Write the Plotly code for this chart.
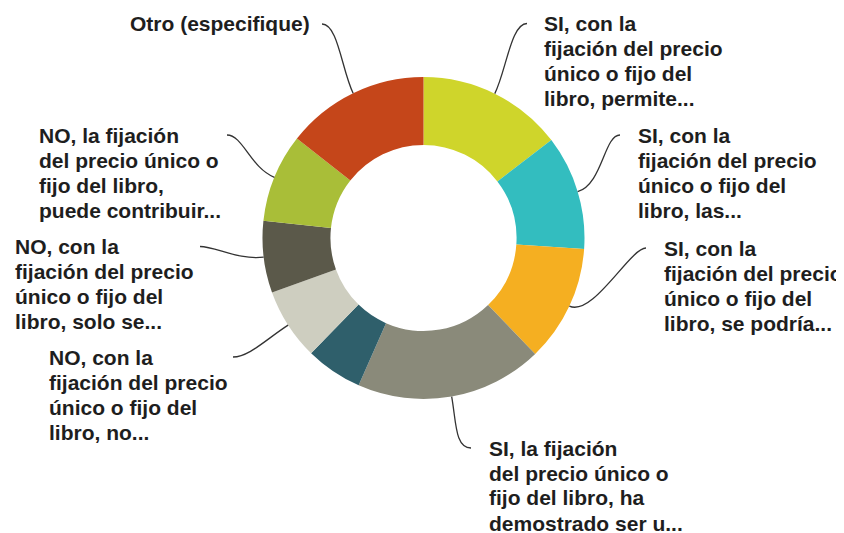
import math
import plotly.graph_objects as go

# ---------------- data ----------------
categories = [
    "SI, con la fijación del precio único o fijo del libro, permite...",
    "SI, con la fijación del precio único o fijo del libro, las...",
    "SI, con la fijación del precio único o fijo del libro, se podría...",
    "SI, la fijación del precio único o fijo del libro, ha demostrado ser u...",
    "(sin etiqueta)",
    "NO, con la fijación del precio único o fijo del libro, no...",
    "NO, con la fijación del precio único o fijo del libro, solo se...",
    "NO, la fijación del precio único o fijo del libro, puede contribuir...",
    "Otro (especifique)",
]
values = [14.6, 11.5, 11.7, 18.8, 5.7, 7.2, 7.2, 8.9, 14.4]
label_lines = [
    ["SI, con la", "fijación del precio", "único o fijo del", "libro, permite..."],
    ["SI, con la", "fijación del precio", "único o fijo del", "libro, las..."],
    ["SI, con la", "fijación del precio", "único o fijo del", "libro, se podría..."],
    ["SI, la fijación", "del precio único o", "fijo del libro, ha", "demostrado ser u..."],
    None,
    ["NO, con la", "fijación del precio", "único o fijo del", "libro, no..."],
    ["NO, con la", "fijación del precio", "único o fijo del", "libro, solo se..."],
    ["NO, la fijación", "del precio único o", "fijo del libro,", "puede contribuir..."],
    ["Otro (especifique)"],
]

# ---------------- style / layout ----------------
colors = ["#CFD52B", "#33BDBF", "#F5AF21", "#8A8A7A", "#2F5F6B",
          "#CECEC0", "#5B594A", "#A9BE38", "#C5461A"]
W, H = 844, 533
PAGE_OFFSET = 8                            # default body margin of the html page
cx, cy, R = 423.5, 238.0, 161.0            # pie centre / radius in page pixels
hole = 0.578
# text left x, first-line centre y, leader end x (page pixels)
label_pos = [(542, 23.5, 527), (636, 135, 620), (662, 248, 646), (487, 448, 471),
             None, (47, 357, 233), (13, 246.5, 200), (37, 135, 227), (128, 24, 322)]
line_gap = 25
font_size = 21
text_color = "#1E1E1E"
leader_color = "#333333"

def px(x):
    return (x - PAGE_OFFSET) / W

def py(y):
    return 1 - (y - PAGE_OFFSET) / H

fig = go.Figure(go.Pie(
    labels=categories, values=values, sort=False, direction="clockwise",
    rotation=0, hole=hole, textinfo="none", hoverinfo="label+percent",
    marker=dict(colors=colors, line=dict(width=0)),
    domain=dict(x=[px(cx - R), px(cx + R)], y=[py(cy + R), py(cy - R)]),
    showlegend=False,
))

annotations = []
shapes = []
total = sum(values)
cum = 0.0
for v, lines, pos in zip(values, label_lines, label_pos):
    a0 = cum / total * 360
    cum += v
    a1 = cum / total * 360
    if lines is None:
        continue
    mid = math.radians((a0 + a1) / 2)
    ux, uy = math.sin(mid), -math.cos(mid)
    x0, y0 = cx + R * ux, cy + R * uy
    tx, ty, ex = pos
    for k, line in enumerate(lines):
        annotations.append(dict(
            x=px(tx), y=py(ty + k * line_gap), xref="paper", yref="paper",
            xanchor="left", yanchor="middle", showarrow=False,
            text="<b>" + line + "</b>",
            font=dict(family="Liberation Sans, Arial, sans-serif",
                      size=font_size, color=text_color)))
    side = 1 if ex > x0 else -1
    x1, y1 = x0 + ux * 26, y0 + uy * 26
    x3, y3 = ex, ty
    x2, y2 = x3 - side * 16, y3
    path = "M {:.5f} {:.5f} C {:.5f} {:.5f}, {:.5f} {:.5f}, {:.5f} {:.5f}".format(
        px(x0), py(y0), px(x1), py(y1), px(x2), py(y2), px(x3), py(y3))
    shapes.append(dict(type="path", path=path, xref="paper", yref="paper",
                       line=dict(color=leader_color, width=1.3)))

fig.update_layout(
    width=W, height=H, margin=dict(l=0, r=0, t=0, b=0),
    paper_bgcolor="white", plot_bgcolor="white",
    annotations=annotations, shapes=shapes,
)
fig.write_html("out.html")
